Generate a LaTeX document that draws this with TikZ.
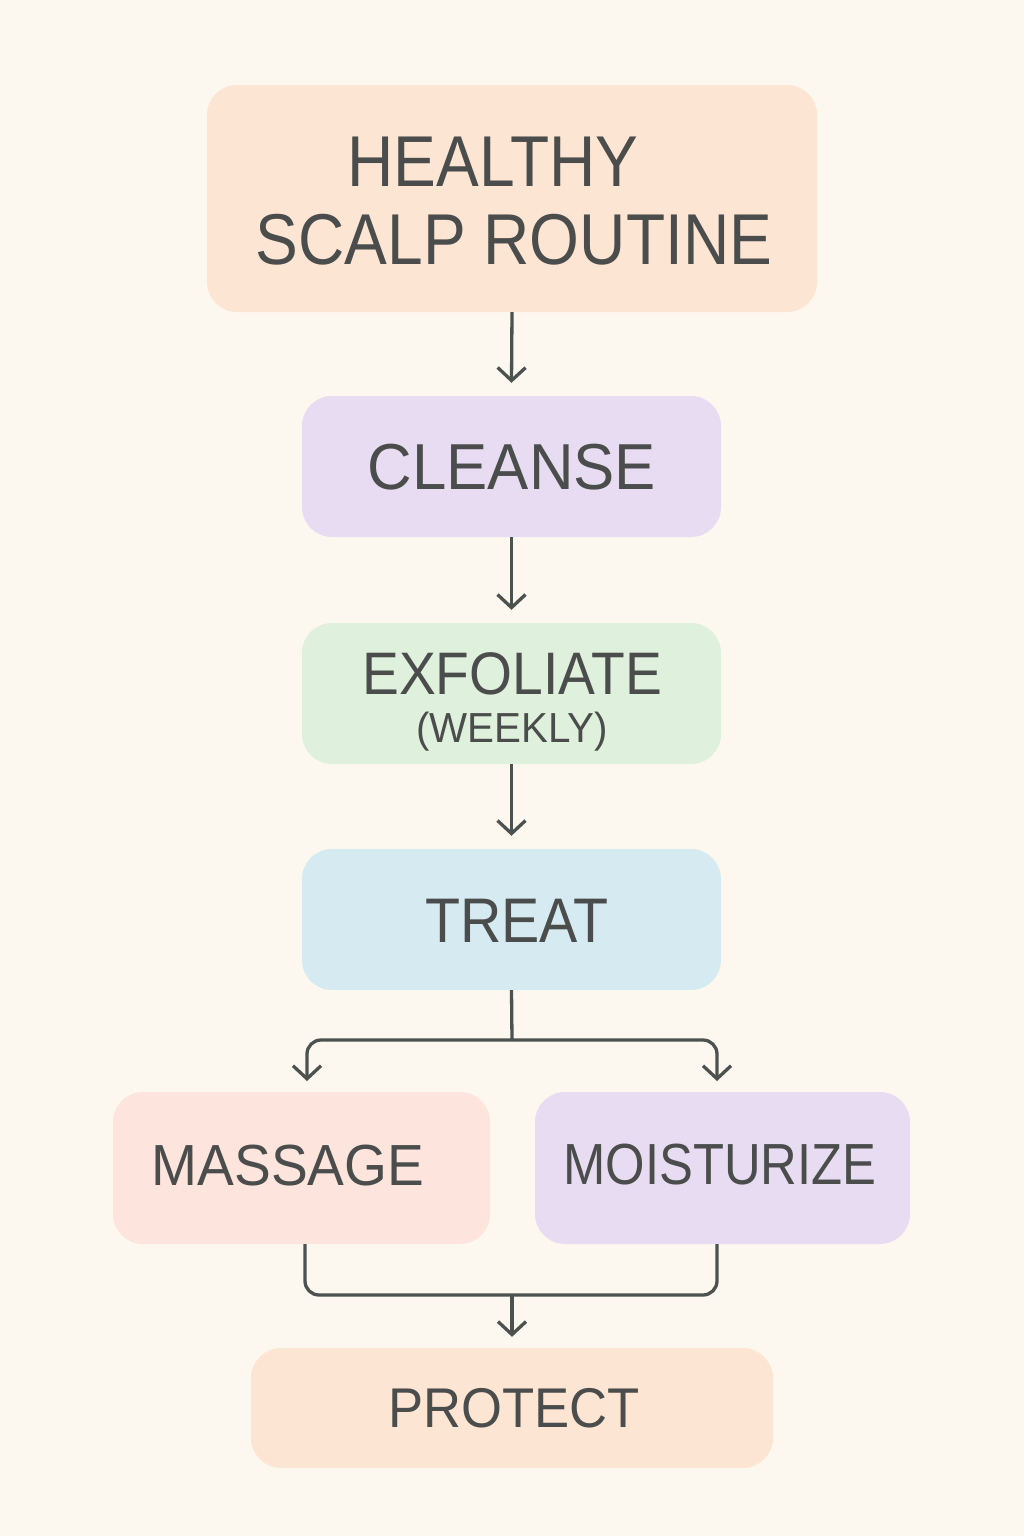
\documentclass[tikz,border=0pt]{standalone}
\usepackage{fontspec}
\setmainfont{Liberation Sans}
\usetikzlibrary{arrows.meta}
\definecolor{bg}{HTML}{FDF8EF}
\definecolor{peach}{HTML}{FDE5D4}
\definecolor{lav}{HTML}{E8DCF2}
\definecolor{mint}{HTML}{DFF0DD}
\definecolor{sky}{HTML}{D5EAF1}
\definecolor{pink}{HTML}{FDE4DC}
\definecolor{ink}{HTML}{4A4D4B}
\definecolor{wire}{HTML}{4C524F}
\tikzset{
  box/.style={rounded corners=30pt, inner sep=0pt, draw=none},
  lbl/.style={text=ink, inner sep=0pt, align=center, transform shape},
  wirel/.style={draw=wire, line width=3.3pt},
  arr/.style={wirel, -{Straight Barb[length=13pt,width=28pt,line width=3.3pt]}},
}
\begin{document}
\begin{tikzpicture}[x=1pt,y=-1pt]
\fill[bg] (0,0) rectangle (1024,1536);
\useasboundingbox (0,0) rectangle (1024,1536);
% boxes
\node[box, fill=peach, minimum width=610pt, minimum height=227pt] (title) at (512,198.5) {};
\node[box, fill=lav, minimum width=419pt, minimum height=141pt] (cleanse) at (511.5,466.5) {};
\node[box, fill=mint, minimum width=419pt, minimum height=141pt] (exfol) at (511.5,693.5) {};
\node[box, fill=sky, minimum width=419pt, minimum height=141pt] (treat) at (511.5,919.5) {};
\node[box, fill=pink, minimum width=377pt, minimum height=152pt] (massage) at (301.5,1168) {};
\node[box, fill=lav, minimum width=375pt, minimum height=152pt] (moist) at (722.5,1168) {};
\node[box, fill=peach, minimum width=522pt, minimum height=120pt] (protect) at (512,1408) {};
% labels
\node[lbl, xscale=0.89, font=\fontsize{72}{78}\selectfont] (titleT) at (514,201) {HEALTHY\hspace*{47pt}\\SCALP ROUTINE};
\node[lbl, xscale=0.95, font=\fontsize{65}{70}\selectfont] (cleanseT) at (512,467) {CLEANSE};
\node[lbl, xscale=0.92, font=\fontsize{60}{64}\selectfont] (exfolT) at (512,674) {EXFOLIATE};
\node[lbl, xscale=0.96, font=\fontsize{42}{46}\selectfont] (weeklyT) at (512,732) {(WEEKLY)};
\node[lbl, xscale=0.91, font=\fontsize{63}{68}\selectfont] (treatT) at (517,921) {TREAT};
\node[lbl, xscale=0.95, font=\fontsize{58}{62}\selectfont] (massageT) at (288,1166) {MASSAGE};
\node[lbl, xscale=0.875, font=\fontsize{58}{62}\selectfont] (moistT) at (720,1165) {MOISTURIZE};
\node[lbl, xscale=0.94, font=\fontsize{56}{60}\selectfont] (protectT) at (514,1408) {PROTECT};
% connectors
\coordinate (j1) at (512,1040);
\coordinate (mIn) at (307,1081);
\coordinate (oIn) at (717,1081);
\coordinate (j2) at (512,1295);
\draw[arr] (title.south) -- ([yshift=13pt]cleanse.north);
\draw[arr] (cleanse.south) -- ([yshift=13pt]exfol.north);
\draw[arr] (exfol.south) -- ([yshift=13pt]treat.north);
\draw[wirel] (treat.south) -- (j1);
\draw[arr, rounded corners=14pt] (j1) -| (mIn);
\draw[arr, rounded corners=14pt] (j1) -| (oIn);
\draw[wirel, rounded corners=14pt] ([xshift=3.5pt]massage.south) |- (j2) -| ([xshift=-5.5pt]moist.south);
\draw[arr] (j2) -- ([yshift=11pt]protect.north);
\end{tikzpicture}
\end{document}
